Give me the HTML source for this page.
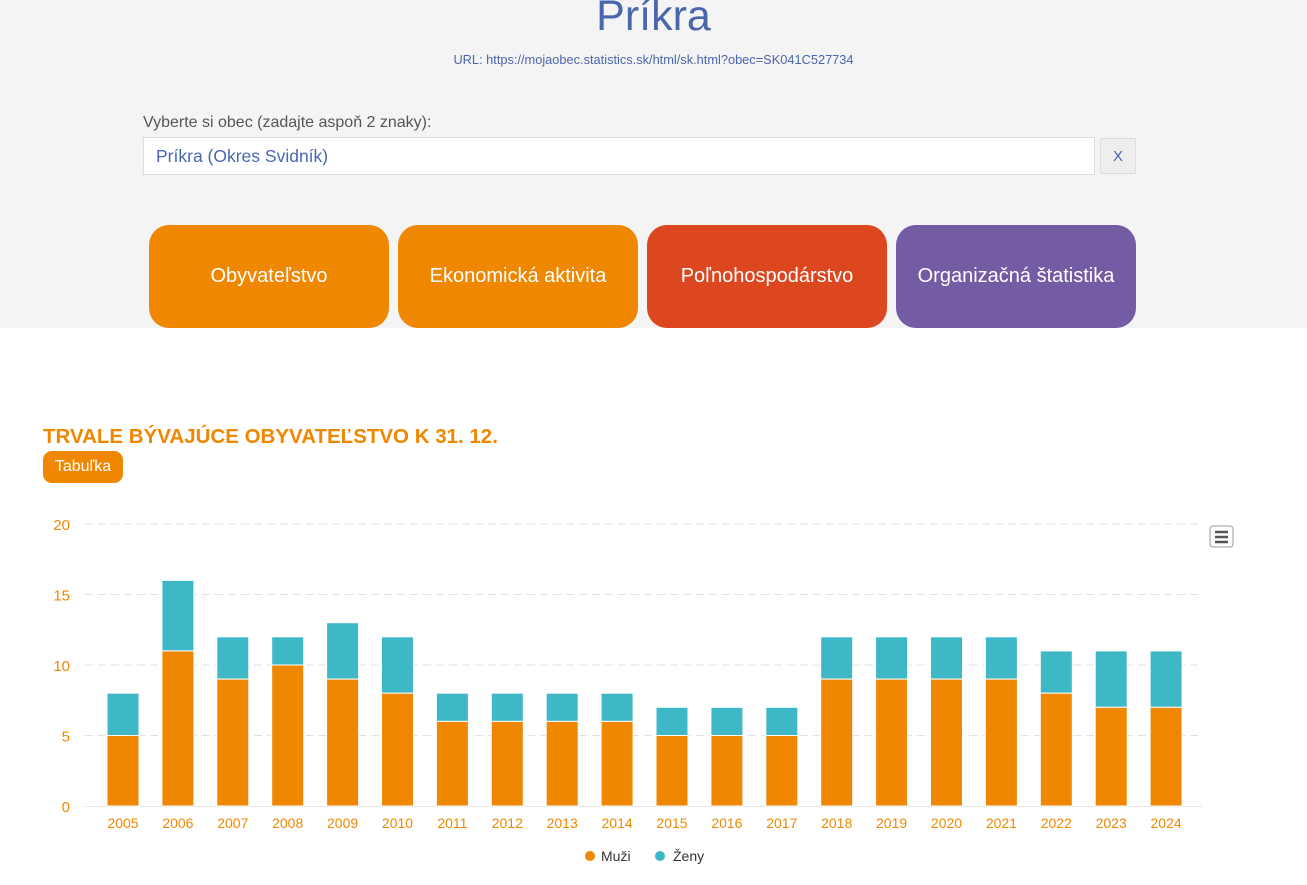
<!DOCTYPE html>
<html><head><meta charset="utf-8"><style>
body{margin:0;width:1307px;height:885px;background:#fff;font-family:"Liberation Sans",sans-serif;position:relative;overflow:hidden}
.top{position:absolute;left:0;top:0;width:1307px;height:328px;background:#f4f4f4}
.btn{position:absolute;top:225px;width:240px;height:103px;border-radius:20px;color:#fff;font-size:20px;display:flex;align-items:center;justify-content:center}
</style></head><body>
<div class="top">
<div style="position:absolute;left:0;width:1307px;top:-8px;text-align:center;font-size:43px;color:#4a66ad">Príkra</div>
<div style="position:absolute;left:0;width:1307px;top:52px;text-align:center;font-size:12.8px;color:#4a66ad">URL: https://mojaobec.statistics.sk/html/sk.html?obec=SK041C527734</div>
<div style="position:absolute;left:143px;top:114px;font-size:16px;color:#555">Vyberte si obec (zadajte aspoň 2 znaky):</div>
<div style="position:absolute;left:143px;top:137px;background:#fff;border:1px solid #ddd;font-size:17.5px;color:#4a66ad;line-height:36px;padding-left:12px;box-sizing:border-box;width:952px;height:38px">Príkra (Okres Svidník)</div>
<div style="position:absolute;left:1100px;top:138px;width:36px;height:36px;background:#eee;border:1px solid #ddd;box-sizing:border-box;color:#4a66ad;font-size:15px;text-align:center;line-height:36px">X</div>
<div class="btn" style="left:149px;background:#f08700">Obyvateľstvo</div>
<div class="btn" style="left:398px;background:#f08700">Ekonomická aktivita</div>
<div class="btn" style="left:647px;background:#dc471f">Poľnohospodárstvo</div>
<div class="btn" style="left:896px;background:#735ca3">Organizačná štatistika</div>
</div>
<div style="position:absolute;left:43px;top:425px;font-size:20.5px;font-weight:bold;color:#f08700">TRVALE BÝVAJÚCE OBYVATEĽSTVO K 31. 12.</div>
<div style="position:absolute;left:43px;top:451px;width:80px;height:32px;border-radius:9px;background:#f08700;color:#fff;font-size:16px;text-align:center;line-height:31px">Tabuľka</div>
<svg style="position:absolute;left:0;top:0" width="1307" height="885" id="s"></svg>
<script>
var men=[5,11,9,10,9,8,6,6,6,6,5,5,5,9,9,9,9,8,7,7],tot=[8,16,12,12,13,12,8,8,8,8,7,7,7,12,12,12,12,11,11,11];
var h='';function y(v){return 806-14.1*v}
for(var v=5;v<=20;v+=5)h+='<line x1="85" x2="1202" y1="'+y(v)+'" y2="'+y(v)+'" stroke="#e2e2e2" stroke-dasharray="8,5"/>';
h+='<line x1="85" x2="1202" y1="806.5" y2="806.5" stroke="#e6e6e6"/>';
for(v=0;v<=20;v+=5)h+='<text x="70" y="'+(y(v)+6)+'" text-anchor="end" font-size="15" fill="#f08700" font-family="Liberation Sans">'+v+'</text>';
for(var i=0;i<20;i++){var x=107+54.9*i;
h+='<rect x="'+x+'" y="'+y(tot[i])+'" width="32" height="'+(14.1*(tot[i]-men[i]))+'" fill="#3eb8c6" stroke="#fff" stroke-width="1"/>';
h+='<rect x="'+x+'" y="'+y(men[i])+'" width="32" height="'+(14.1*men[i])+'" fill="#f08700" stroke="#fff" stroke-width="1"/>';
h+='<text x="'+(x+16)+'" y="828" text-anchor="middle" font-size="14" fill="#f08700" font-family="Liberation Sans">'+(2005+i)+'</text>';}
h+='<rect x="1210" y="526" width="23" height="21" rx="3" fill="#fff" stroke="#999"/><path d="M1215 532h13M1215 537h13M1215 542h13" stroke="#555" stroke-width="2.5"/>';
h+='<circle cx="590" cy="856" r="5" fill="#f08700"/><text x="601" y="861" font-size="14" fill="#333" font-family="Liberation Sans">Muži</text>';
h+='<circle cx="660" cy="856" r="5" fill="#3eb8c6"/><text x="673" y="861" font-size="14" fill="#333" font-family="Liberation Sans">Ženy</text>';
document.getElementById('s').innerHTML=h;
</script>
</body></html>
